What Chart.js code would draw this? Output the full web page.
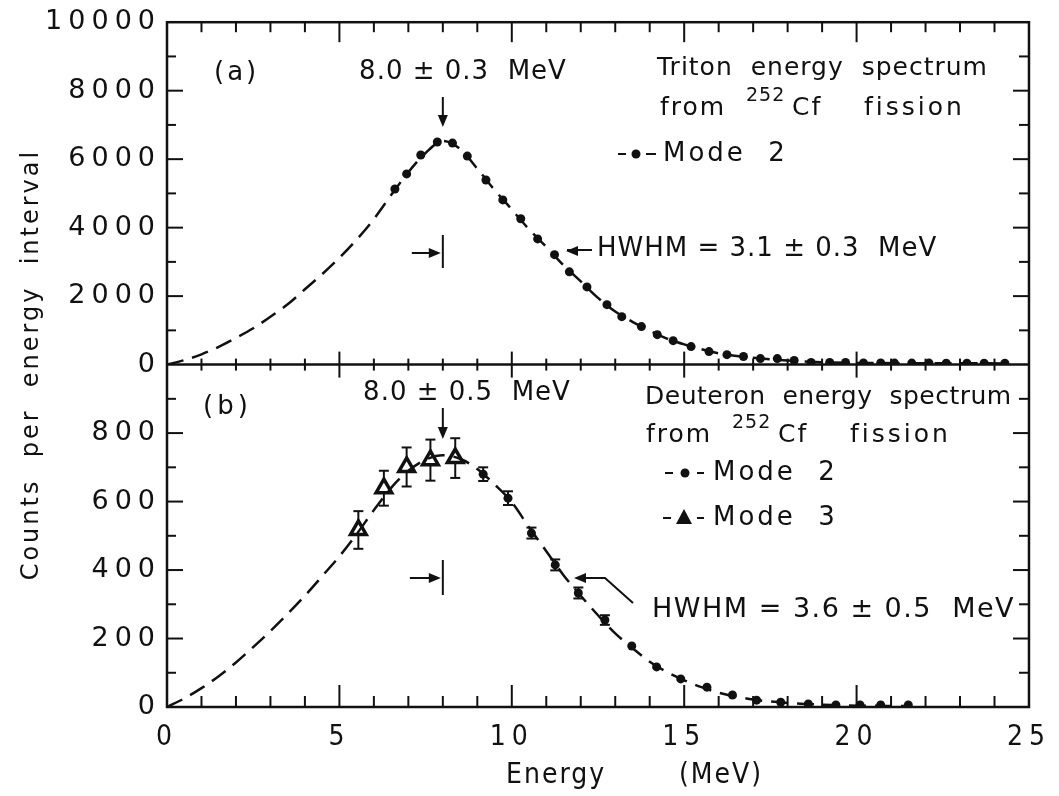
<!DOCTYPE html>
<html>
<head>
<meta charset="utf-8">
<script src="https://cdn.jsdelivr.net/npm/chart.js@4.4.1/dist/chart.umd.min.js"></script>
<style>
  html, body { margin: 0; padding: 0; background: #fff; }
  #wrap { position: relative; width: 1059px; height: 796px; }
</style>
</head>
<body>
<div id="wrap"><canvas id="spectra"></canvas></div>
<script>
// (a) triton spectrum, fitted curve + mode 2 points
const tritonFitE = [0, 0.5, 1, 1.5, 2, 2.5, 3, 3.5, 4, 4.5, 5, 5.5, 6, 6.5, 7, 7.5, 8, 8.5, 9, 9.5, 10, 10.5, 11, 11.5, 12, 12.5, 13, 13.5, 14, 14.5, 15, 16, 17, 18, 19, 20, 22, 24.5];
const tritonFitCounts = [0, 130, 300, 520, 780, 1060, 1400, 1760, 2200, 2640, 3120, 3650, 4250, 4950, 5620, 6180, 6530, 6300, 5720, 5100, 4530, 3950, 3440, 2900, 2430, 1950, 1550, 1250, 990, 760, 590, 330, 200, 120, 70, 50, 40, 35];
const tritonE = [6.61, 6.95, 7.36, 7.84, 8.28, 8.71, 9.25, 9.74, 10.26, 10.75, 11.24, 11.67, 12.18, 12.76, 13.19, 13.76, 14.22, 14.68, 15.2, 15.72, 16.24, 16.72, 17.21, 17.7, 18.19, 18.68, 19.22, 19.68, 20.2, 20.7, 21.1, 21.6, 22.1, 22.6, 23.2, 23.7, 24.3];
const tritonCounts = [5130, 5570, 6120, 6500, 6470, 6090, 5390, 4810, 4260, 3670, 3210, 2710, 2270, 1750, 1400, 1110, 875, 700, 525, 380, 290, 235, 175, 175, 120, 60, 60, 60, 50, 50, 45, 45, 45, 40, 40, 40, 40];

// (b) deuteron spectrum, fitted curve + mode 2 / mode 3 points
const deutFitE = [0, 0.5, 1, 1.5, 2, 2.5, 3, 3.5, 4, 4.5, 5, 5.5, 6, 6.5, 7, 7.5, 8, 8.5, 9, 9.5, 10, 10.5, 11, 11.5, 12, 12.5, 13, 13.5, 14, 14.5, 15, 15.5, 16, 17, 18, 19, 20, 21.5];
const deutFitCounts = [0, 25, 55, 90, 130, 175, 222, 272, 325, 382, 440, 505, 575, 640, 690, 722, 735, 725, 695, 650, 598, 525, 455, 385, 325, 268, 215, 172, 132, 102, 78, 58, 42, 22, 12, 7, 4, 3];
const mode2E = [9.17, 9.89, 10.57, 11.26, 11.93, 12.7, 13.48, 14.2, 14.9, 15.66, 16.4, 17.1, 17.8, 18.6, 19.4, 20.1, 20.7, 21.5];
const mode2Counts = [680, 610, 508, 415, 333, 254, 178, 117, 82, 58, 35, 20, 14, 9, 6, 6, 6, 6];
const mode2Err = [20, 20, 16, 16, 16, 14, 0, 0, 0, 0, 0, 0, 0, 0, 0, 0, 0, 0];
const mode3E = [5.55, 6.29, 6.95, 7.64, 8.36];
const mode3Counts = [517, 639, 701, 721, 727];
const mode3Err = [55, 51, 57, 60, 58];

const energyTicks = [0, 5, 10, 15, 20, 25];

const ink = '#111';
const face = '"DejaVu Sans", "Liberation Sans", sans-serif';
const narrow = '"DejaVu Sans Condensed", "Liberation Sans Narrow", sans-serif';

function pts(xs, ys) {
    return xs.map((x, i) => ({ x: x, y: ys[i] }));
}

function seg(ctx, x1, y1, x2, y2) {
    ctx.beginPath();
    ctx.moveTo(x1, y1);
    ctx.lineTo(x2, y2);
    ctx.stroke();
}

function arrowHead(ctx, x, y, dir) { // dir: 'down', 'right', 'left'
    ctx.beginPath();
    if (dir == 'down') { ctx.moveTo(x, y); ctx.lineTo(x - 5, y - 12); ctx.lineTo(x + 5, y - 12); }
    if (dir == 'right') { ctx.moveTo(x, y); ctx.lineTo(x - 12, y - 5); ctx.lineTo(x - 12, y + 5); }
    if (dir == 'left') { ctx.moveTo(x, y); ctx.lineTo(x + 12, y - 5); ctx.lineTo(x + 12, y + 5); }
    ctx.closePath();
    ctx.fill();
}

function note(ctx, s, x, y, size, spacing, align) {
    ctx.font = size + 'px ' + face;
    ctx.letterSpacing = spacing + 'px';
    ctx.textAlign = align || 'left';
    ctx.textBaseline = 'middle';
    ctx.fillText(s, x, y);
}

// "from 252Cf fission" with raised mass number
function fromCf(ctx, x, y) {
    note(ctx, 'from', x, y, 25, 2);
    note(ctx, '252', x + 86, y - 12, 19, 1);
    note(ctx, 'Cf', x + 132, y, 25, 2);
    note(ctx, 'fission', x + 204, y, 25, 3);
}

const paperPlugin = {
    id: 'paper',
    beforeDraw(chart) {
        // wide lettering for the count labels
        chart.ctx.letterSpacing = '6px';
    },
    beforeDatasetsDraw(chart) {
        // error bars
        const ctx = chart.ctx;
        const xs = chart.scales.x, yb = chart.scales.yBot;
        ctx.save();
        ctx.strokeStyle = ink;
        ctx.lineWidth = 2;
        const bars = (es, cs, errs) => {
            es.forEach((e, i) => {
                if (!errs[i]) return;
                const px = xs.getPixelForValue(e);
                const hi = yb.getPixelForValue(cs[i] + errs[i]);
                const lo = yb.getPixelForValue(cs[i] - errs[i]);
                seg(ctx, px, hi, px, lo);
                seg(ctx, px - 5, hi, px + 5, hi);
                seg(ctx, px - 5, lo, px + 5, lo);
            });
        };
        bars(mode3E, mode3Counts, mode3Err);
        bars(mode2E, mode2Counts, mode2Err);
        ctx.restore();
    },
    afterDatasetsDraw(chart) {
        // x scale (z: 1) is drawn after this, with tighter lettering
        chart.ctx.letterSpacing = '1px';
    },
    afterDraw(chart) {
        const ctx = chart.ctx;
        const xs = chart.scales.x, yt = chart.scales.yTop, yb = chart.scales.yBot;
        const L = chart.chartArea.left, R = chart.chartArea.right;
        const T = chart.chartArea.top, B = chart.chartArea.bottom;
        const M = yt.getPixelForValue(0);
        ctx.save();
        ctx.strokeStyle = ink;
        ctx.fillStyle = ink;
        ctx.lineCap = 'butt';

        // frame and divider
        ctx.lineWidth = 2.5;
        ctx.strokeRect(L, T, R - L, B - T);
        seg(ctx, L, M, R, M);

        // inward ticks
        ctx.lineWidth = 2;
        for (let e = 1; e < 25; e++) {
            const px = xs.getPixelForValue(e);
            const big = e % 5 == 0;
            seg(ctx, px, T, px, T + (big ? 20 : 10));
            seg(ctx, px, M - (big ? 13 : 6), px, M + (big ? 13 : 6));
            seg(ctx, px, B, px, B - (big ? 22 : 11));
        }
        for (let v = 1000; v < 10000; v += 1000) {
            const py = yt.getPixelForValue(v);
            const big = v % 2000 == 0;
            seg(ctx, L, py, L + (big ? 16 : 9), py);
            seg(ctx, R, py, R - (big ? 16 : 10), py);
        }
        for (let v = 100; v < 1000; v += 100) {
            const py = yb.getPixelForValue(v);
            const big = v % 200 == 0;
            seg(ctx, L, py, L + (big ? 16 : 9), py);
            seg(ctx, R, py, R - (big ? 16 : 10), py);
        }

        // axis titles
        ctx.save();
        ctx.translate(32, (T + B) / 2);
        ctx.rotate(-Math.PI / 2);
        note(ctx, 'Counts  per  energy  interval', 0, 0, 24, 3, 'center');
        ctx.restore();
        ctx.font = '28px ' + narrow;
        ctx.letterSpacing = '2px';
        ctx.textAlign = 'left';
        ctx.textBaseline = 'middle';
        ctx.fillText('Energy', 506, 776);
        ctx.fillText('(MeV)', 679, 776);

        // peak markers
        const p8 = xs.getPixelForValue(8.0);
        note(ctx, '(a)', 214, 73, 26, 3);
        note(ctx, '8.0 ± 0.3  MeV', 463, 72, 26, 1, 'center');
        seg(ctx, p8, 97, p8, 118);
        arrowHead(ctx, p8, 127, 'down');
        note(ctx, '(b)', 203, 407, 26, 4);
        note(ctx, '8.0 ± 0.5  MeV', 467, 393, 26, 1, 'center');
        seg(ctx, p8, 408, p8, 430);
        arrowHead(ctx, p8, 439, 'down');

        // half width markers
        const hTop = 253, hBot = 578;
        seg(ctx, p8 - 31, hTop, p8 - 8, hTop);
        arrowHead(ctx, p8 - 2, hTop, 'right');
        seg(ctx, p8, hTop - 18, p8, hTop + 15);
        seg(ctx, p8 - 33, hBot, p8 - 8, hBot);
        arrowHead(ctx, p8 - 2, hBot, 'right');
        seg(ctx, p8, hBot - 18, p8, hBot + 17);

        // (a) labels
        note(ctx, 'Triton  energy  spectrum', 657, 68, 25, 1);
        fromCf(ctx, 660, 108);
        seg(ctx, 618, 154, 626, 154);
        ctx.beginPath(); ctx.arc(636, 154, 4.5, 0, Math.PI * 2); ctx.fill();
        seg(ctx, 646, 154, 656, 154);
        note(ctx, 'Mode  2', 663, 154, 26, 3);
        seg(ctx, 567, 250, 592, 250);
        arrowHead(ctx, 566, 251, 'left');
        note(ctx, 'HWHM = 3.1 ± 0.3  MeV', 597, 249, 26, 1);

        // (b) labels
        note(ctx, 'Deuteron  energy  spectrum', 645, 397, 25, 0.5);
        fromCf(ctx, 646, 435);
        seg(ctx, 665, 473, 673, 473);
        ctx.beginPath(); ctx.arc(685, 473, 4.5, 0, Math.PI * 2); ctx.fill();
        seg(ctx, 697, 473, 704, 473);
        note(ctx, 'Mode  2', 713, 473, 26, 3);
        seg(ctx, 663, 518, 671, 518);
        ctx.beginPath();
        ctx.moveTo(684, 509); ctx.lineTo(692, 524); ctx.lineTo(676, 524); ctx.closePath();
        ctx.fill();
        seg(ctx, 697, 518, 704, 518);
        note(ctx, 'Mode  3', 713, 518, 26, 3);
        ctx.lineWidth = 2;
        ctx.beginPath();
        ctx.moveTo(633, 603); ctx.lineTo(605, 578); ctx.lineTo(585, 578);
        ctx.stroke();
        arrowHead(ctx, 574, 578, 'left');
        note(ctx, 'HWHM = 3.6 ± 0.5  MeV', 652, 610, 27, 1.5);
        ctx.restore();
    }
};

const fitStyle = {
    borderColor: ink,
    borderWidth: 2.5,
    borderDash: [17, 9],
    pointRadius: 0,
    fill: false,
    cubicInterpolationMode: 'monotone',
    showLine: true
};

const config = {
    type: 'scatter',
    data: {
        datasets: [
            Object.assign({ label: 'Triton fit', data: pts(tritonFitE, tritonFitCounts), yAxisID: 'yTop' }, fitStyle),
            { label: 'Triton Mode 2', data: pts(tritonE, tritonCounts), yAxisID: 'yTop',
              pointRadius: 4.5, pointBackgroundColor: ink, pointBorderWidth: 0, showLine: false },
            Object.assign({ label: 'Deuteron fit', data: pts(deutFitE, deutFitCounts), yAxisID: 'yBot' }, fitStyle),
            { label: 'Deuteron Mode 2', data: pts(mode2E, mode2Counts), yAxisID: 'yBot',
              pointRadius: 4.5, pointBackgroundColor: ink, pointBorderWidth: 0, showLine: false },
            { label: 'Deuteron Mode 3', data: pts(mode3E, mode3Counts), yAxisID: 'yBot',
              pointStyle: 'triangle', pointRadius: 9, pointBackgroundColor: '#fff',
              pointBorderColor: ink, pointBorderWidth: 3.5, showLine: false }
        ]
    },
    options: {
        responsive: false,
        animation: false,
        layout: { padding: { top: 22, right: 21, left: 0, bottom: 0 } },
        plugins: { legend: { display: false }, tooltip: { enabled: false } },
        scales: {
            x: {
                type: 'linear', min: 0, max: 25, z: 1,
                afterBuildTicks: (s) => { s.ticks = energyTicks.map(v => ({ value: v })); },
                grid: { display: false, drawTicks: false },
                border: { display: false },
                ticks: { color: ink, padding: 14, font: { family: narrow, size: 28 },
                         callback: (v) => String(v) },
                afterFit: (s) => { s.height = 89; }
            },
            // the stack is laid out bottom-up in declaration order
            yBot: {
                type: 'linear', position: 'left', stack: 'panels', stackWeight: 1,
                min: 0, max: 1000,
                grid: { display: false, drawTicks: false },
                border: { display: false },
                ticks: { stepSize: 200, color: ink, padding: 6, font: { family: face, size: 27 },
                         callback: (v) => v == 1000 ? '' : String(v) },
                afterFit: (s) => { s.width = 167; }
            },
            yTop: {
                type: 'linear', position: 'left', stack: 'panels', stackWeight: 1,
                min: 0, max: 10000,
                grid: { display: false, drawTicks: false },
                border: { display: false },
                ticks: { stepSize: 2000, color: ink, padding: 6, font: { family: face, size: 27 },
                         callback: (v) => String(v) },
                afterFit: (s) => { s.width = 167; }
            }
        }
    },
    plugins: [paperPlugin]
};

const canvas = document.getElementById('spectra');
canvas.width = 1059;
canvas.height = 796;
const chart = new Chart(canvas, config);
</script>
</body>
</html>
